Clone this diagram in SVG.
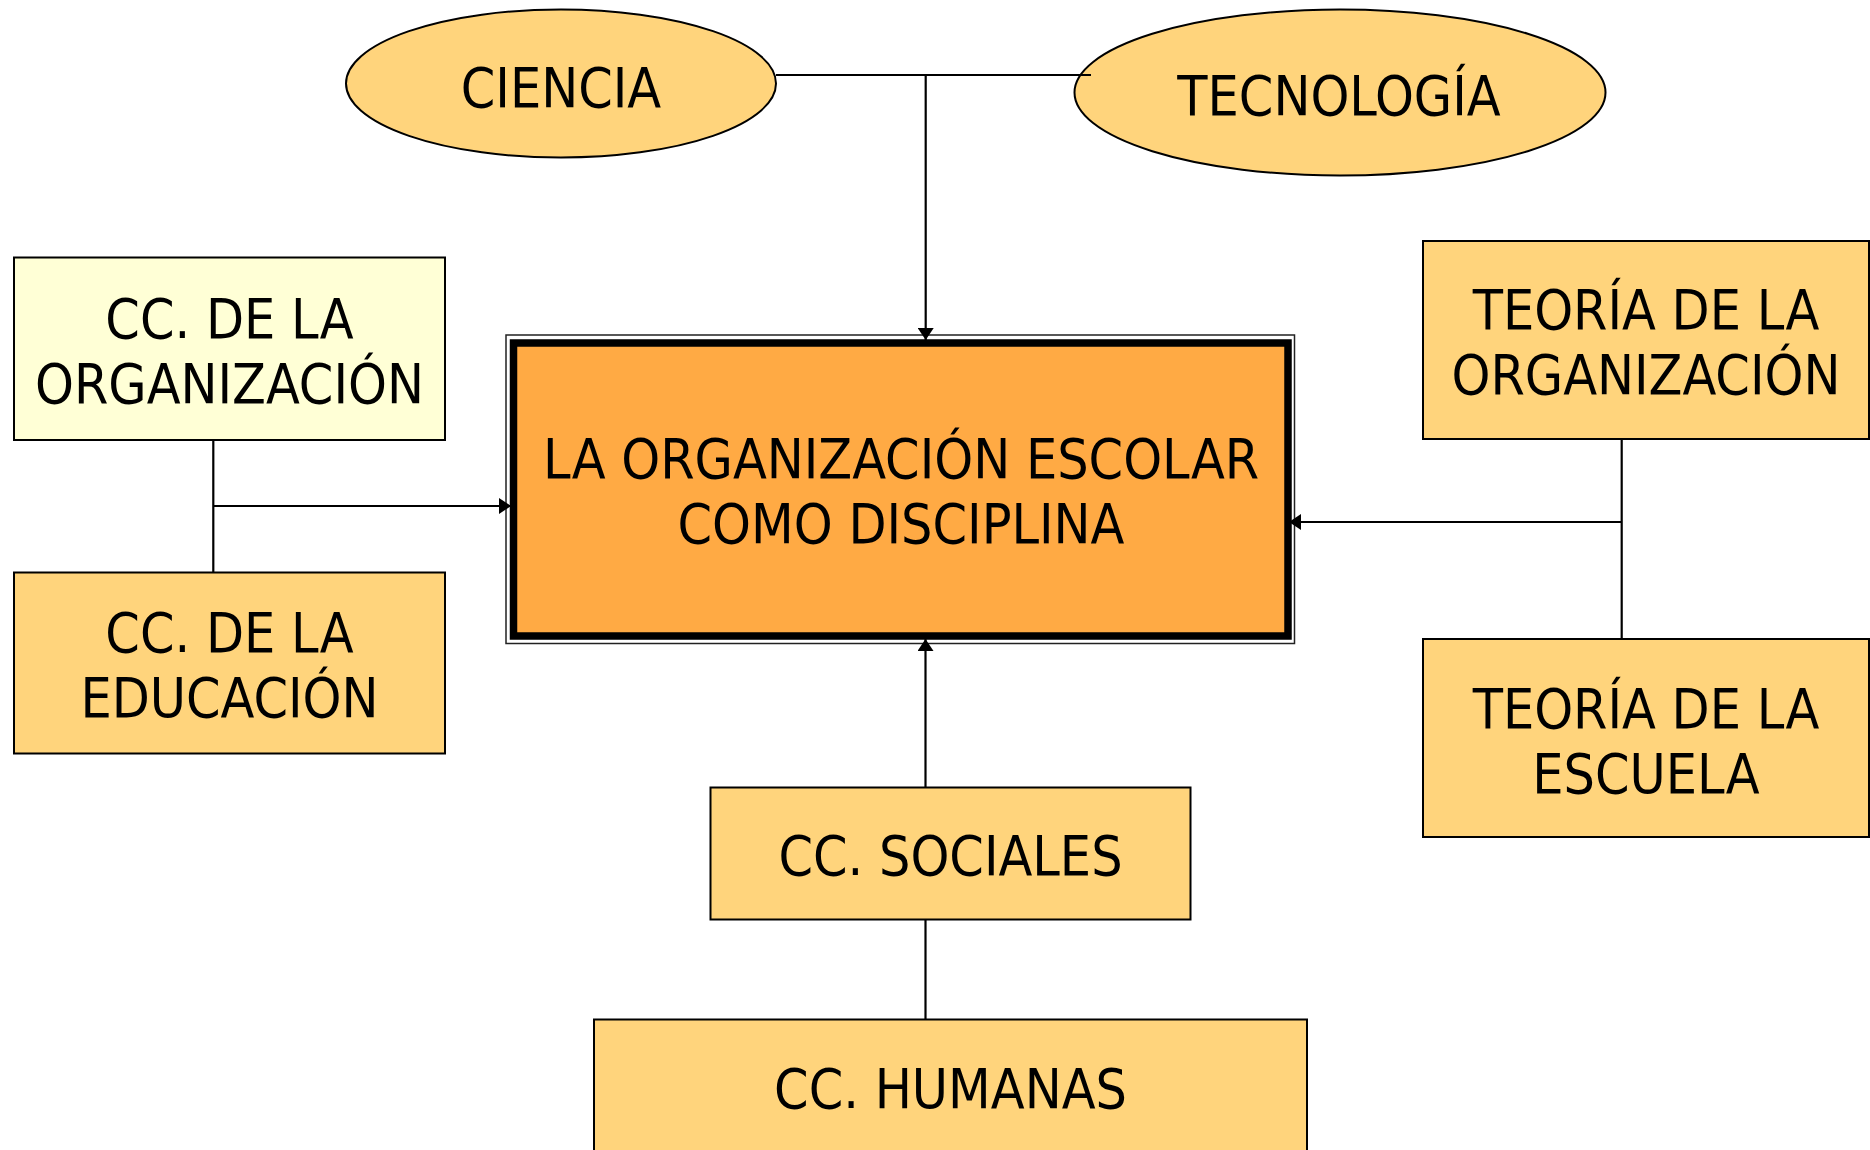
<svg xmlns="http://www.w3.org/2000/svg" width="1870" height="1150" viewBox="0 0 1870 1150">
<style>
.n{fill:#FFD47C;stroke:#000;stroke-width:2}
.y{fill:#FFFFD6;stroke:#000;stroke-width:2}
.t{font-family:"DejaVu Sans Condensed","DejaVu Sans",sans-serif;font-size:55px;fill:#000;text-anchor:middle}
.c{fill:none;stroke:#000;stroke-width:2.2}
</style>
<defs>
<marker id="ah" markerUnits="userSpaceOnUse" markerWidth="12" markerHeight="16" refX="12" refY="8" orient="auto">
<path d="M0,0 L12,8 L0,16 z" fill="#000"/>
</marker>
</defs>
<rect width="1870" height="1150" fill="#fff"/>
<g id="ciencia">
<ellipse class="n" cx="561" cy="83.5" rx="215" ry="74"/>
<text class="t" x="561" y="107">CIENCIA</text>
</g>
<g id="tecnologia">
<ellipse class="n" cx="1340" cy="92.5" rx="265.5" ry="83"/>
<text class="t" x="1339" y="115">TECNOLOGÍA</text>
</g>
<g id="central">
<rect x="506" y="335" width="788.5" height="308.5" fill="none" stroke="#222" stroke-width="1.5"/>
<rect x="513.5" y="343" width="774.5" height="293" fill="#FFAA44" stroke="#000" stroke-width="7.5"/>
<text class="t" x="901" y="478">LA ORGANIZACIÓN ESCOLAR</text>
<text class="t" x="901" y="543">COMO DISCIPLINA</text>
</g>
<g id="cc-organizacion">
<rect class="y" x="14" y="257.5" width="431" height="182.5"/>
<text class="t" x="229.5" y="338">CC. DE LA</text>
<text class="t" x="229.5" y="403">ORGANIZACIÓN</text>
</g>
<g id="cc-educacion">
<rect class="n" x="14" y="572.5" width="431" height="181"/>
<text class="t" x="229.5" y="652">CC. DE LA</text>
<text class="t" x="229.5" y="717">EDUCACIÓN</text>
</g>
<g id="teoria-organizacion">
<rect class="n" x="1423" y="241" width="446" height="198"/>
<text class="t" x="1646" y="329">TEORÍA DE LA</text>
<text class="t" x="1646" y="394">ORGANIZACIÓN</text>
</g>
<g id="teoria-escuela">
<rect class="n" x="1423" y="639" width="446" height="198"/>
<text class="t" x="1646" y="728">TEORÍA DE LA</text>
<text class="t" x="1646" y="793">ESCUELA</text>
</g>
<g id="cc-sociales">
<rect class="n" x="710.5" y="787.5" width="480" height="132"/>
<text class="t" x="950.5" y="875">CC. SOCIALES</text>
</g>
<g id="cc-humanas">
<rect class="n" x="594" y="1019.5" width="713" height="140"/>
<text class="t" x="950.5" y="1108">CC. HUMANAS</text>
</g>
<g id="connectors">
<path class="c" d="M776,75 H1091"/>
<path class="c" d="M925.7,75 V340" marker-end="url(#ah)"/>
<path class="c" d="M213.3,440 V572.5"/>
<path class="c" d="M213.3,506 H511" marker-end="url(#ah)"/>
<path class="c" d="M1621.7,439 V639"/>
<path class="c" d="M1621.7,522 H1289" marker-end="url(#ah)"/>
<path class="c" d="M925.5,787.5 V639" marker-end="url(#ah)"/>
<path class="c" d="M925.5,919.5 V1019.5"/>
</g>
</svg>
